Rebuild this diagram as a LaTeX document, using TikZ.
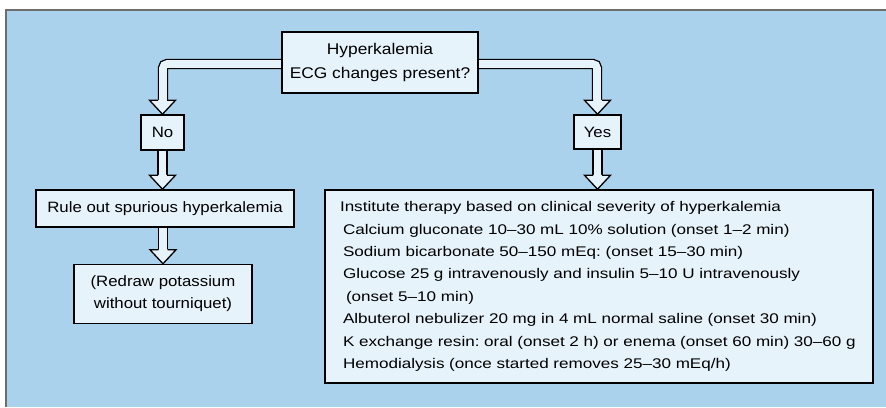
\documentclass[tikz,border=0pt]{standalone}
\usepackage{fontspec}
\setmainfont{Liberation Sans}[FakeStretch=1.12]
\newfontfamily\therapyfont{Liberation Sans}[FakeStretch=1.22, Ligatures=TeX]
\frenchspacing
\usetikzlibrary{calc}
\pgfdeclarelayer{bg}
\pgfsetlayers{bg,main}
\definecolor{bgblue}{RGB}{170,210,236}
\definecolor{boxfill}{RGB}{231,243,251}
\definecolor{framegray}{RGB}{110,110,110}
\tikzset{
  box/.style={draw=black, line width=1.5pt, fill=boxfill, inner sep=0pt, align=center},
  shaft/.style={draw=black, line width=1.3pt, double=boxfill, double distance=7.6pt},
  outl/.style={draw=black, line width=1.3pt, line join=miter},
  fsmall/.style={font=\therapyfont\fontsize{14}{22.4}\selectfont},
  fbig/.style={font=\fontsize{15}{22}\selectfont},
}
\newcommand\arrhead[1]{%
  \fill[boxfill] ($(#1)+(-13,-14.5)$) -- ($(#1)+(13,-14.5)$) -- (#1) -- cycle;
  \draw[outl] ($(#1)+(-4.5,-14)$) -- ($(#1)+(-13,-14)$) -- (#1) -- ($(#1)+(13,-14)$) -- ($(#1)+(4.5,-14)$);}
\begin{document}
\begin{tikzpicture}[x=1pt,y=-1pt]
\useasboundingbox (0,0) rectangle (886,407);

\node[box, font=\fontsize{15.5}{24}\selectfont, minimum width=196pt, minimum height=61pt] (q) at (380,62.5) {Hyperkalemia\\ECG changes present?};
\node[box, fbig, minimum width=43pt, minimum height=35pt] (no) at (162.5,132.5) {No};
\node[box, fbig, minimum width=47pt, minimum height=34pt] (yes) at (597.5,132) {Yes};
\node[box, fbig, minimum width=258pt, minimum height=37pt] (rule) at (165,208.5) {Rule out spurious hyperkalemia};
\node[box, fbig, minimum width=178pt, minimum height=59pt] (redraw) at (163,294) {(Redraw potassium\\without tourniquet)};
\node[box, fsmall, align=left, text width=528pt, minimum width=548pt, minimum height=193pt] (tx) at (599,286.5) {%
\hspace*{5pt}Institute therapy based on clinical severity of hyperkalemia\\
\hspace*{8pt}Calcium gluconate 10--30 mL 10\% solution (onset 1--2 min)\\
\hspace*{8pt}Sodium bicarbonate 50--150 mEq: (onset 15--30 min)\\
\hspace*{8pt}Glucose 25 g intravenously and insulin 5--10 U intravenously\\
\hspace*{11pt}(onset 5--10 min)\\
\hspace*{8pt}Albuterol nebulizer 20 mg in 4 mL normal saline (onset 30 min)\\
\hspace*{8pt}K exchange resin: oral (onset 2 h) or enema (onset 60 min) 30--60 g\\
\hspace*{8pt}Hemodialysis (once started removes 25--30 mEq/h)};

\begin{pgfonlayer}{bg}
\fill[white] (0,0) rectangle (886,407);
\fill[bgblue] (6,10) rectangle (886,407);
\draw[framegray, line width=1.2pt] (6,407) -- (6,10) -- (886,10);

\draw[shaft, rounded corners=4pt] ($(q.west)+(3,1.5)$) -| ($(no.north)+(0.5,-14)$);
\arrhead{no.north}
\draw[shaft, rounded corners=4pt] ($(q.east)+(-3,1.5)$) -| ($(yes.north)+(-0.5,-14)$);
\arrhead{yes.north}

\coordinate (t1) at (no.south |- rule.north);
\draw[shaft] (no.south) -- ($(t1)+(0,-14)$);
\arrhead{t1}

\coordinate (s2) at (rule.south -| redraw.north);
\draw[shaft] (s2) -- ($(redraw.north)+(0,-14)$);
\arrhead{redraw.north}

\coordinate (t3) at (yes.south |- tx.north);
\draw[shaft] (yes.south) -- ($(t3)+(0,-14)$);
\arrhead{t3}
\end{pgfonlayer}
\end{tikzpicture}
\end{document}
